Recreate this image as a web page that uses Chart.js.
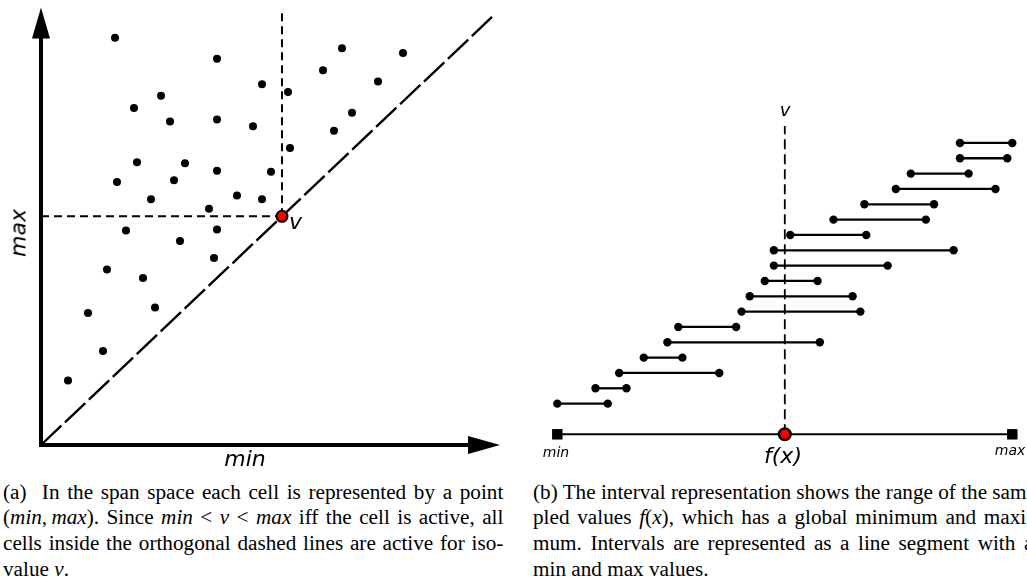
<!DOCTYPE html>
<html>
<head>
<meta charset="utf-8">
<script src="https://cdn.jsdelivr.net/npm/chart.js@4.4.0/dist/chart.umd.min.js"></script>
<style>
  html, body { margin: 0; padding: 0; width: 1027px; height: 584px; overflow: hidden; background: #fff; }
  canvas { position: absolute; }
  #spanChart { left: 0; top: 0; }
  #intervalChart { left: 520px; top: 90px; }
  .lbl { position: absolute; font-family: 'DejaVu Sans', sans-serif; font-style: oblique; color: #000; white-space: nowrap; line-height: normal; }
  .cap { position: absolute; top: 479.7px; width: 472px; font-family: 'Liberation Serif', serif; font-size: 20px; line-height: 25.8px; color: #000;
         transform: scaleX(1.06); transform-origin: 0 0; }
  .cap div { text-align: justify; text-align-last: justify; white-space: nowrap; }
  .cap div.last { text-align-last: left; }
</style>
</head>
<body>
<canvas id="spanChart" width="510" height="470"></canvas>
<canvas id="intervalChart" width="507" height="380"></canvas>

<!-- etiquetas panel (a) -->
<div class="lbl" style="font-size:22px; left:18px; top:233px; transform:translate(-50%,-50%) rotate(-90deg);">max</div>
<div class="lbl" style="font-size:22px; left:245px; top:446px; transform:translateX(-50%);">min</div>
<div class="lbl" style="font-size:22px; left:289px; top:209px;">v</div>

<!-- etiquetas panel (b) -->
<div class="lbl" style="font-size:18px; left:785px; top:99px; transform:translateX(-50%);">v</div>
<div class="lbl" style="font-size:14px; left:556px; top:444px; transform:translateX(-50%);">min</div>
<div class="lbl" style="font-size:14px; left:1010px; top:442px; transform:translateX(-50%);">max</div>
<div class="lbl" style="font-size:22px; left:783px; top:443px; transform:translateX(-50%);">f(x)</div>

<!-- captions -->
<div class="cap" style="left:3px;">
  <div>(a)&nbsp; In the span space each cell is represented by a point</div>
  <div>(<i>min</i>,&thinsp;<i>max</i>). Since <i>min</i> &lt; <i>v</i> &lt; <i>max</i> iff the cell is active, all</div>
  <div>cells inside the orthogonal dashed lines are active for iso-</div>
  <div class="last">value <i>v</i>.</div>
</div>
<div class="cap" style="left:533px;">
  <div>(b) The interval representation shows the range of the sam-</div>
  <div>pled values <i>f</i>(<i>x</i>), which has a global minimum and maxi-</div>
  <div>mum. Intervals are represented as a line segment with a</div>
  <div class="last">min and max values.</div>
</div>

<script>
// Panel (a): span space, cada celda es un punto (min, max)
const cellMin = [74, 176, 301, 362, 282, 221, 247, 337, 120, 93, 129, 176, 212, 311, 293, 249, 96, 144,
                 176, 230, 76, 133, 110, 196, 221, 168, 85, 176, 139, 173, 66, 102, 114, 47, 62, 27];
const cellMax = [429, 407, 418, 413, 395, 380, 372, 383, 368, 355, 341, 343, 336, 350, 331, 313, 298, 297,
                 289, 288, 277, 279, 259, 263, 259, 249, 226, 227, 215, 197, 185, 176, 145, 139, 99, 68];
const spanIso = 241;      // isovalor v
const spanTop = 458;      // fin de la linea discontinua vertical
const spanDiagEnd = 451;  // fin de la diagonal min = max
const spanXMax = 459;
const spanYMax = 461;

// Panel (b): intervalos [min, max] de abajo hacia arriba
const intervalRow = [2, 3, 4, 5, 6, 7, 8, 9, 10, 11, 12, 13, 14, 15, 16, 17, 18, 19];
const intervalLo = [0, 8.4, 13.6, 19.0, 24.2, 26.6, 40.5, 42.3, 45.6, 47.6, 47.6, 51.2, 60.7, 67.5, 74.4, 77.7, 88.5, 88.5];
const intervalHi = [11.1, 15.2, 35.6, 27.5, 57.7, 39.3, 66.6, 64.9, 57.2, 72.6, 87.1, 67.9, 81.0, 82.8, 96.3, 90.4, 98.9, 100];
const globalMin = 0;
const globalMax = 100;
const isoValue = 50;
const isoTop = 20.1;

const black = '#000000';
const red = '#ff0000';

// flechas de los ejes del span space
const axisArrows = {
  id: 'axisArrows',
  beforeDatasetsDraw(chart) {
    const { ctx, chartArea: a } = chart;
    ctx.save();
    ctx.strokeStyle = black;
    ctx.fillStyle = black;
    ctx.lineWidth = 4;
    ctx.beginPath();
    ctx.moveTo(a.left, a.bottom + 2);
    ctx.lineTo(a.left, a.top + 28);
    ctx.moveTo(a.left - 2, a.bottom);
    ctx.lineTo(a.right - 28, a.bottom);
    ctx.stroke();
    ctx.beginPath();
    ctx.moveTo(a.left, a.top);
    ctx.lineTo(a.left - 9, a.top + 31);
    ctx.lineTo(a.left + 9, a.top + 31);
    ctx.closePath();
    ctx.moveTo(a.right, a.bottom);
    ctx.lineTo(a.right - 32, a.bottom - 9);
    ctx.lineTo(a.right - 32, a.bottom + 9);
    ctx.closePath();
    ctx.fill();
    ctx.restore();
  }
};

const hiddenScales = (xMin, xMax, yMin, yMax) => ({
  x: { type: 'linear', display: false, min: xMin, max: xMax },
  y: { type: 'linear', display: false, min: yMin, max: yMax }
});

const baseOptions = {
  responsive: false,
  animation: false,
  events: [],
  plugins: { legend: { display: false }, tooltip: { enabled: false } }
};

function initSpanChart() {
  const ctx = document.getElementById('spanChart').getContext('2d');
  new Chart(ctx, {
    type: 'scatter',
    data: {
      datasets: [
        {
          data: [{ x: spanIso, y: spanIso }],
          backgroundColor: red, borderColor: black, borderWidth: 2, pointRadius: 5.5, clip: false
        },
        {
          data: [{ x: spanIso, y: spanIso }, { x: spanIso, y: spanTop }],
          showLine: true, borderColor: black, borderWidth: 2, borderDash: [8, 5], pointRadius: 0, clip: false
        },
        {
          data: [{ x: 0, y: spanIso }, { x: spanIso, y: spanIso }],
          showLine: true, borderColor: black, borderWidth: 2, borderDash: [8, 5], pointRadius: 0, clip: false
        },
        {
          data: [{ x: 0, y: 0 }, { x: spanDiagEnd, y: spanDiagEnd }],
          showLine: true, borderColor: black, borderWidth: 2.4, borderDash: [28, 5], pointRadius: 0, clip: false
        },
        {
          data: cellMin.map((m, i) => ({ x: m, y: cellMax[i] })),
          backgroundColor: black, borderWidth: 0, pointRadius: 4, clip: false
        }
      ]
    },
    options: {
      ...baseOptions,
      layout: { padding: { left: 41, right: 10, top: 5, bottom: 25 } },
      scales: hiddenScales(0, spanXMax, 0, spanYMax)
    },
    plugins: [axisArrows]
  });
}

function initIntervalChart() {
  const ctx = document.getElementById('intervalChart').getContext('2d');
  const intervals = intervalLo.map((lo, i) => ({
    data: [{ x: lo, y: intervalRow[i] }, { x: intervalHi[i], y: intervalRow[i] }],
    showLine: true, borderColor: black, backgroundColor: black,
    borderWidth: 2.3, pointRadius: 4.2, pointBorderWidth: 0, clip: false
  }));
  new Chart(ctx, {
    type: 'scatter',
    data: {
      datasets: [
        {
          data: [{ x: isoValue, y: 0 }],
          backgroundColor: red, borderColor: black, borderWidth: 2.5, pointRadius: 5.8, clip: false
        },
        {
          data: [{ x: isoValue, y: 0 }, { x: isoValue, y: isoTop }],
          showLine: true, borderColor: black, borderWidth: 1.8, borderDash: [10, 5], pointRadius: 0, clip: false
        },
        {
          data: [{ x: globalMin, y: 0 }, { x: globalMax, y: 0 }],
          showLine: true, borderColor: black, backgroundColor: black, borderWidth: 2,
          pointStyle: 'rect', pointRadius: 7.4, pointBorderWidth: 0, clip: false
        },
        ...intervals
      ]
    },
    options: {
      ...baseOptions,
      layout: { padding: { left: 37.3, right: 14.7, top: 37.6, bottom: 35.7 } },
      scales: hiddenScales(globalMin, globalMax, 0, 20)
    }
  });
}

initSpanChart();
initIntervalChart();
</script>
</body>
</html>
